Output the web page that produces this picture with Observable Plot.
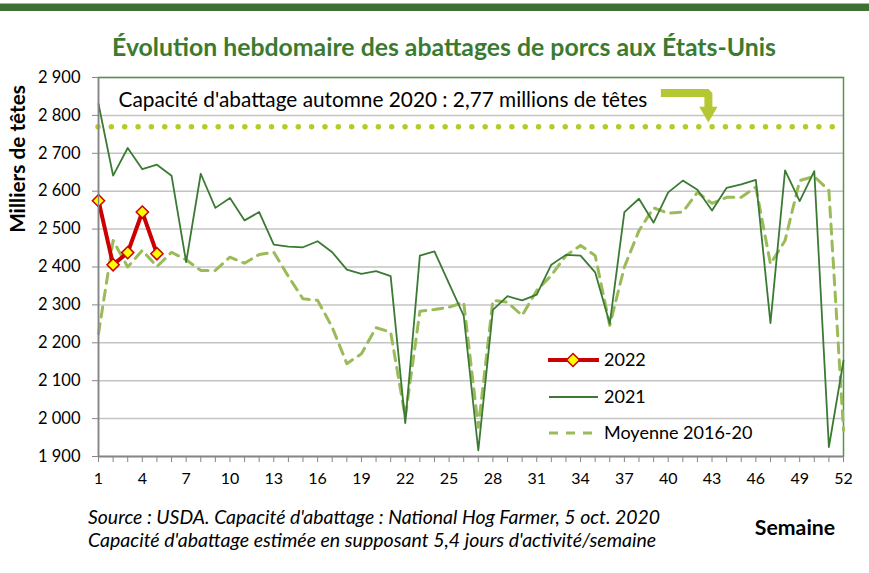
<!DOCTYPE html>
<html><head><meta charset="utf-8">
<script src="https://cdn.jsdelivr.net/npm/d3@7"></script>
<script src="https://cdn.jsdelivr.net/npm/@observablehq/plot@0.6"></script>
<style>
body{margin:0;background:#fff;font-family:Lato,"Open Sans",sans-serif;}
#wrap{position:relative;width:869px;height:573px;overflow:hidden;background:#fff;}
.abs{position:absolute;white-space:nowrap;line-height:1;}
</style></head><body>
<div id="wrap">
  <div id="chart" style="position:absolute;left:0;top:0"></div>
  <div class="abs" style="left:0;top:3px;width:869px;height:1px;background:#a9b7a5"></div>
  <div class="abs" style="left:0;top:4px;width:869px;height:7px;background:#3f7134"></div>
  <div id="title" class="abs" data-w="664" style="left:444px;top:47px;transform:translate(-50%,-50%);font-weight:700;color:#3b7b30;font-size:21px">Évolution hebdomaire des abattages de porcs aux États-Unis</div>
  <div id="ylab" class="abs" data-w="148" style="left:17px;top:159px;transform:translate(-50%,-50%) rotate(-90deg);font-weight:700;font-size:16px;color:#000">Milliers de têtes</div>
  <div id="foot1" class="abs" data-w="572" style="left:88px;top:517px;transform:translateY(-50%);font-style:italic;font-size:15px">Source : USDA. Capacité d'abattage : National Hog Farmer, 5 oct. 2020</div>
  <div id="foot2" class="abs" data-w="569" style="left:88px;top:540px;transform:translateY(-50%);font-style:italic;font-size:15px">Capacité d'abattage estimée en supposant 5,4 jours d'activité/semaine</div>
  <div id="sem" class="abs" data-w="80" style="left:795px;top:528px;transform:translate(-50%,-50%);font-weight:700;font-size:17px">Semaine</div>
  <svg id="legend" width="869" height="573" style="position:absolute;left:0;top:0;pointer-events:none;font-family:Lato,sans-serif">
    <line x1="548" x2="599" y1="360" y2="360" stroke="#cc0000" stroke-width="4"/>
    <path d="M573,353.5 L579.5,360 L573,366.5 L566.5,360 Z" fill="#ffff00" stroke="#cc0000" stroke-width="1.5"/>
    <text x="604" y="360" dy="0.35em" font-size="18">2022</text>
    <line x1="549" x2="598" y1="397" y2="397" stroke="#3b7a33" stroke-width="2"/>
    <text x="604" y="397" dy="0.35em" font-size="18">2021</text>
    <line x1="549" x2="599" y1="433" y2="433" stroke="#9bbb59" stroke-width="3" stroke-dasharray="9 8"/>
    <text x="604" y="433" dy="0.35em" font-size="18">Moyenne 2016-20</text>
  </svg>
</div>
<script>
// ---- data ----
const weeks = [1,2,3,4,5,6,7,8,9,10,11,12,13,14,15,16,17,18,19,20,21,22,23,24,25,26,27,28,29,30,31,32,33,34,35,36,37,38,39,40,41,42,43,44,45,46,47,48,49,50,51,52];
const series2021 = [2830,2641,2714,2658,2670,2641,2413,2646,2556,2582,2523,2545,2459,2454,2452,2468,2439,2393,2382,2389,2376,1988,2430,2441,2356,2272,1916,2287,2323,2312,2327,2406,2432,2430,2386,2250,2545,2580,2517,2597,2628,2604,2549,2609,2618,2630,2252,2655,2574,2653,1925,2153];
const seriesAvg = [2224,2470,2400,2444,2401,2439,2419,2391,2391,2426,2410,2433,2439,2375,2316,2312,2241,2145,2171,2240,2228,2004,2283,2288,2294,2307,1977,2312,2307,2272,2338,2378,2430,2457,2430,2246,2400,2496,2556,2542,2545,2597,2568,2584,2584,2611,2408,2470,2628,2639,2602,1969];
const weeks2022 = [1,2,3,4,5];
const series2022 = [2575,2406,2438,2545,2435];
const capacity = 2770;
const yTicks = [1900,2000,2100,2200,2300,2400,2500,2600,2700,2800,2900];
const xTickLabels = [1,4,7,10,13,16,19,22,25,28,31,34,37,40,43,46,49,52];
const annotationText = "Capacité d'abattage automne 2020 : 2,77 millions de têtes";
// annotation anchors in data units
const annotationAnchor = {x: 2.37, y: 2839};
const arrowPath = [{x: 39.5, y: 2859}, {x: 42.75, y: 2859}, {x: 42.75, y: 2820}];
const arrowTip = [{x: 42.75, y: 2809}];

const d2021 = weeks.map((w,i)=>({w, v: series2021[i]}));
const dAvg = weeks.map((w,i)=>({w, v: seriesAvg[i]}));
const d2022 = weeks2022.map((w,i)=>({w, v: series2022[i]}));
const fmt = d => d3.format(",")(d).replace(",", " ");

const gray = "#868686";
const chart = Plot.plot({
  width: 869, height: 573,
  marginTop: 77, marginLeft: 98, marginRight: 26, marginBottom: 117,
  style: {fontFamily: "Lato, 'Open Sans', sans-serif", fontSize: "16px", color: "#000", background: "transparent"},
  x: {domain: [1, 52], axis: null},
  y: {domain: [1900, 2900], axis: null},
  marks: [
    Plot.ruleY(yTicks, {stroke: "#c4c4c4", strokeWidth: 1.5}),
    Plot.frame({stroke: "#5a9448", strokeWidth: 1.5}),
    Plot.ruleY([capacity], {stroke: "#b6ca2c", strokeWidth: 5.5, strokeDasharray: "0 13.35", strokeLinecap: "round"}),
    Plot.line(dAvg, {x: "w", y: "v", stroke: "#9bbb59", strokeWidth: 3, strokeDasharray: "10 7"}),
    Plot.line(d2021, {x: "w", y: "v", stroke: "#3b7a33", strokeWidth: 1.8}),
    Plot.line(d2022, {x: "w", y: "v", stroke: "#cc0000", strokeWidth: 4}),
    Plot.dot(d2022, {x: "w", y: "v", symbol: "diamond2", r: 5.5, fill: "#ffff00", stroke: "#cc0000", strokeWidth: 1.5}),
    Plot.ruleX([1], {stroke: gray, strokeWidth: 1.5}),
    Plot.ruleY([1900], {stroke: gray, strokeWidth: 1.5}),
    Plot.axisY({ticks: yTicks, tickSize: 6, tickPadding: 12, tickFormat: fmt, label: null, stroke: gray, fill: "#000", fontSize: 16.5}),
    Plot.axisX({ticks: weeks, tickSize: 6, tickFormat: () => "", label: null, stroke: gray}),
    Plot.axisX({ticks: xTickLabels, tickSize: 0, tickPadding: 16, label: null, fill: "#000", fontSize: 16}),
    Plot.text([annotationAnchor], {x: "x", y: "y", text: () => annotationText, textAnchor: "start", fontSize: 20.8, fill: "#000"}),
    Plot.line(arrowPath, {x: "x", y: "y", stroke: "#b5c733", strokeWidth: 8, strokeLinejoin: "miter", strokeLinecap: "butt"}),
    Plot.dot(arrowTip, {x: "x", y: "y", symbol: "triangle", rotate: 180, r: 6.8, fill: "#b5c733", stroke: "none"})
  ]
});
document.getElementById("chart").appendChild(chart);

document.querySelectorAll("[data-w]").forEach(el => {
  const w = +el.dataset.w;
  const cur = parseFloat(getComputedStyle(el).fontSize);
  el.style.fontSize = (cur * w / el.offsetWidth) + "px";
});
</script>
</body></html>
